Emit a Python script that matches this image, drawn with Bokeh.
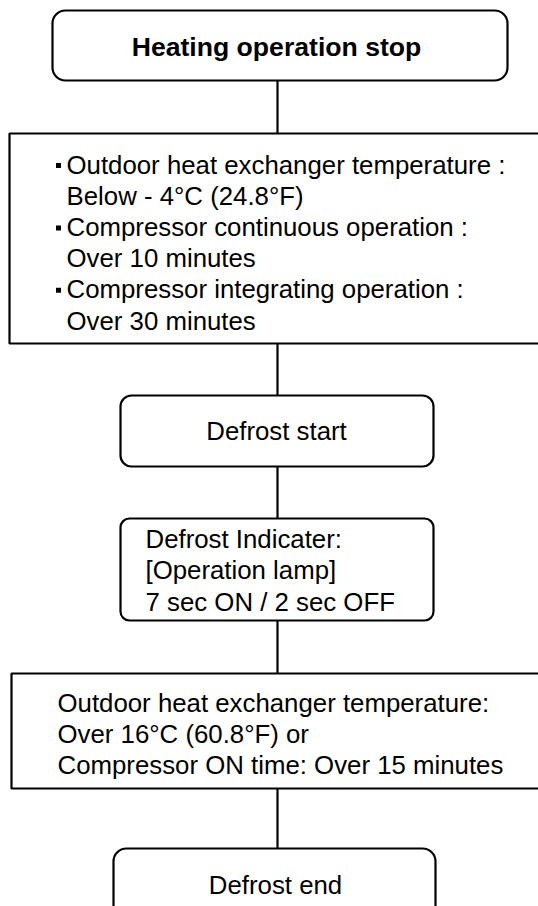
from bokeh.plotting import figure
from bokeh.models import Range1d
from bokeh.core.properties import value
from bokeh.embed import file_html
from bokeh.resources import INLINE

# ---- content ----
title_text = "Heating operation stop"
cond_heads = ["Outdoor heat exchanger temperature :",
              "Compressor continuous operation :",
              "Compressor integrating operation :"]
cond_values = ["Below - 4°C (24.8°F)", "Over 10 minutes", "Over 30 minutes"]
start_label = "Defrost start"
indicator_lines = ["Defrost Indicater:", "[Operation lamp]", "7 sec ON / 2 sec OFF"]
end_cond_lines = ["Outdoor heat exchanger temperature:",
                  "Over 16°C (60.8°F) or",
                  "Compressor ON time: Over 15 minutes"]
end_label = "Defrost end"

FONT = value("Liberation Sans")
FS = "25.8px"
FS_BOLD = "26.6px"

p = figure(width=538, height=906, output_backend="svg", toolbar_location=None,
           x_range=Range1d(0, 538), y_range=Range1d(906, 0),
           min_border=0)
p.axis.visible = False
p.grid.visible = False
p.outline_line_color = None
p.background_fill_color = "white"
p.border_fill_color = "white"

CX = 277
LW = 2.2

# connectors
p.segment(x0=[CX] * 5, x1=[CX] * 5,
          y0=[80, 343, 466, 620, 788], y1=[133, 395, 518, 673, 848],
          line_color="black", line_width=LW)

# rounded boxes
p.quad(left=[52], right=[507], top=[10], bottom=[80], border_radius=13,
       fill_color="white", line_color="black", line_width=LW)
p.quad(left=[120], right=[433], top=[395], bottom=[466], border_radius=11,
       fill_color="white", line_color="black", line_width=LW)
p.quad(left=[120], right=[433], top=[518], bottom=[620], border_radius=9,
       fill_color="white", line_color="black", line_width=LW)
p.quad(left=[113], right=[435], top=[848], bottom=[930], border_radius=13,
       fill_color="white", line_color="black", line_width=LW)
# square boxes
p.quad(left=[9], right=[560], top=[133], bottom=[343],
       fill_color="white", line_color="black", line_width=LW)
p.quad(left=[11], right=[560], top=[673], bottom=[788],
       fill_color="white", line_color="black", line_width=LW)

# title
p.text(x=[276], y=[46], text=[title_text], text_font=FONT, text_font_size=FS_BOLD,
       text_font_style="bold", text_align="center", text_baseline="middle",
       text_color="black")

# start conditions
lines = []
for h, v in zip(cond_heads, cond_values):
    lines += [h, v]
y0, dy = 164, 31.2
ys = [y0 + dy * i for i in range(len(lines))]
p.text(x=[66] * len(lines), y=ys, text=lines, text_font=FONT, text_font_size=FS,
       text_align="left", text_baseline="middle", text_color="black")
p.scatter(x=[58] * len(cond_heads), y=[ys[2 * i] + 1 for i in range(len(cond_heads))],
          marker="square", size=5, fill_color="black", line_color="black", line_width=0)

# defrost start
p.text(x=[276], y=[430], text=[start_label], text_font=FONT, text_font_size=FS,
       text_align="center", text_baseline="middle", text_color="black")

# indicator
iy = [538 + 31.5 * i for i in range(len(indicator_lines))]
p.text(x=[145] * len(indicator_lines), y=iy, text=indicator_lines, text_font=FONT,
       text_font_size=FS, text_align="left", text_baseline="middle", text_color="black")

# end conditions
ey = [702 + 31 * i for i in range(len(end_cond_lines))]
p.text(x=[57] * len(end_cond_lines), y=ey, text=end_cond_lines, text_font=FONT,
       text_font_size=FS, text_align="left", text_baseline="middle", text_color="black")

# defrost end
p.text(x=[275], y=[884], text=[end_label], text_font=FONT, text_font_size=FS,
       text_align="center", text_baseline="middle", text_color="black")

open("out.html", "w").write(file_html(p, INLINE))
